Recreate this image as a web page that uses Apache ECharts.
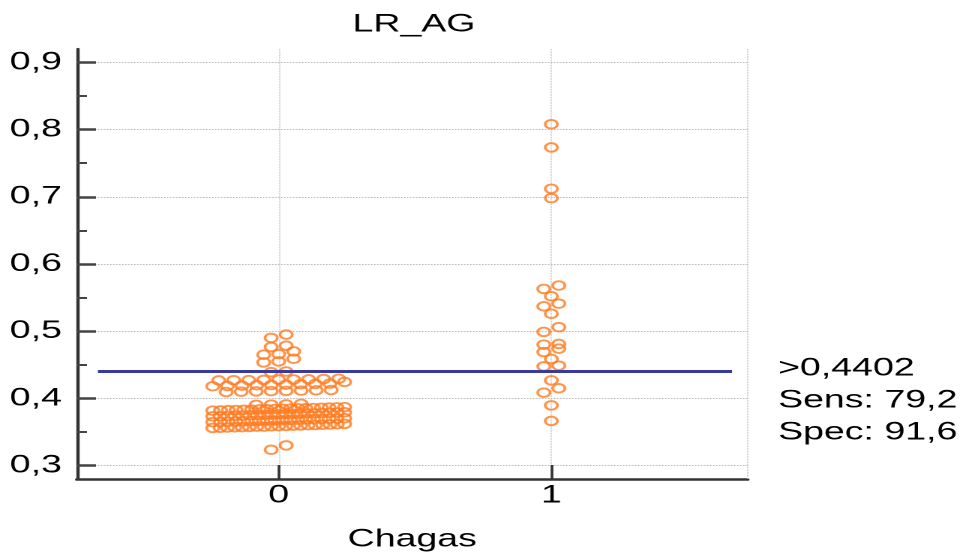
<!DOCTYPE html>
<html><head><meta charset="utf-8">
<script src="https://cdn.jsdelivr.net/npm/echarts@6/dist/echarts.min.js"></script>
<style>
html,body{margin:0;padding:0;background:#fff;overflow:hidden}
#chart{width:641px;height:557px;transform:scaleX(1.5);transform-origin:0 0;}
</style></head>
<body><div id="chart"></div>
<script>
// ---- data ----
const categories = ['0', '1'];
const chartTitle = 'LR_AG';
const xAxisName = 'Chagas';
const yTickValues = [0.3, 0.4, 0.5, 0.6, 0.7, 0.8, 0.9];
const yMinorTickValues = [0.35, 0.45, 0.55, 0.65, 0.75, 0.85];
const cutoff = 0.4402;

// Chagas = 0 (negatives)
const valuesChagas0 = [
  0.3235, 0.3300,
  0.3560, 0.3562, 0.3566, 0.3569, 0.3571, 0.3575, 0.3579, 0.3580, 0.3584, 0.3588,
  0.3590, 0.3595, 0.3597, 0.3601, 0.3604, 0.3607, 0.3611, 0.3615, 0.3620,
  0.3646, 0.3649, 0.3652, 0.3656, 0.3660, 0.3662, 0.3666, 0.3670, 0.3673, 0.3676,
  0.3680, 0.3684, 0.3687, 0.3690, 0.3694, 0.3698, 0.3701, 0.3705,
  0.3732, 0.3735, 0.3738, 0.3742, 0.3745, 0.3749, 0.3752, 0.3755, 0.3759, 0.3762,
  0.3765, 0.3769, 0.3772, 0.3776, 0.3779, 0.3782, 0.3786, 0.3790, 0.3793,
  0.3818, 0.3821, 0.3824, 0.3827, 0.3830, 0.3833, 0.3836, 0.3839, 0.3842, 0.3845,
  0.3848, 0.3851, 0.3854, 0.3857, 0.3860, 0.3863, 0.3866, 0.3870,
  0.3904, 0.3907, 0.3910, 0.3918,
  0.4095, 0.4100, 0.4104, 0.4108, 0.4112, 0.4115, 0.4120, 0.4124,
  0.4181, 0.4185, 0.4190, 0.4195, 0.4199, 0.4204, 0.4210, 0.4215, 0.4220, 0.4245,
  0.4267, 0.4270, 0.4272, 0.4275, 0.4278, 0.4281, 0.4284, 0.4288, 0.4292,
  0.4390, 0.4400,
  0.4536, 0.4550, 0.4590,
  0.4650, 0.4660, 0.4700,
  0.4765, 0.4784,
  0.4900, 0.4950
];

// Chagas = 1 (positives)
const valuesChagas1 = [
  0.3664, 0.3896, 0.4085, 0.4150, 0.4268, 0.4476, 0.4487, 0.4586,
  0.4690, 0.4740, 0.4800, 0.4810, 0.4990, 0.5060, 0.5260, 0.5370,
  0.5410, 0.5520, 0.5630, 0.5680, 0.6980, 0.7120, 0.7735, 0.8080
];

// ---- layout helpers ----
const xMin = -0.74, xMax = 1.72;
const yMin = 0.28, yMax = 0.92;
const FONT = '"Liberation Sans", Arial, sans-serif';
const ORANGE = '#ff7a1f';
const TEXT = '#000';

function swarm(values, center, binHeight, step, maxSpan) {
  const sorted = values.slice().sort((a, b) => a - b);
  const bins = [];
  let cur = null;
  for (const v of sorted) {
    if (!cur || v - cur.start >= binHeight - 1e-9) { cur = { start: v, items: [] }; bins.push(cur); }
    cur.items.push(v);
  }
  const pts = [];
  for (const b of bins) {
    const n = b.items.length;
    const s = n > 1 ? Math.min(step, maxSpan / (n - 1)) : 0;
    b.items.forEach((v, i) => pts.push([center + (i - (n - 1) / 2) * s, v]));
  }
  return pts;
}

const pts0 = swarm(valuesChagas0, 0, 0.0085, 0.055, 0.4835);
const pts1 = swarm(valuesChagas1, 1, 0.0085, 0.055, 0.4835);

const fmt = v => v.toFixed(1).replace('.', ',');
const sens = valuesChagas1.filter(v => v > cutoff).length / valuesChagas1.length * 100;
const spec = valuesChagas0.filter(v => v <= cutoff).length / valuesChagas0.length * 100;
const infoLines = [
  '>' + cutoff.toFixed(4).replace('.', ','),
  'Sens: ' + fmt(sens),
  'Spec: ' + fmt(spec)
];

const chart = echarts.init(document.getElementById('chart'), null, { devicePixelRatio: 2 });

const markerStyle = {
  symbol: 'circle',
  symbolSize: [8.2, 8.6],
  itemStyle: { color: 'rgba(255,255,255,0)', borderColor: ORANGE, borderWidth: 1.9 }
};

chart.setOption({
  animation: false,
  backgroundColor: '#fff',
  textStyle: { fontFamily: FONT },
  title: {
    text: chartTitle, left: 271, top: 7, textAlign: 'center',
    textStyle: { fontFamily: FONT, fontSize: 25, fontWeight: 'normal', color: TEXT }
  },
  grid: { left: 51.3, right: 142.6, top: 49, bottom: 77, containLabel: false },
  xAxis: {
    type: 'value', min: xMin, max: xMax,
    axisLine: { show: true, onZero: false, lineStyle: { color: '#333', width: 2.6 } },
    axisTick: { show: true, inside: true, length: 14, customValues: [0, 1], lineStyle: { color: '#333', width: 1.8 } },
    axisLabel: { customValues: [0, 1], formatter: v => categories[Math.round(v)], fontSize: 25, color: TEXT, margin: 4, fontFamily: FONT },
    splitLine: { show: true, lineStyle: { type: 'dotted', color: '#b8b8b8', width: 0.8 } },
    name: xAxisName, nameLocation: 'middle', nameGap: 48,
    nameTextStyle: { fontSize: 25, color: TEXT, fontFamily: FONT }
  },
  yAxis: [{
    type: 'value', min: yMin, max: yMax, position: 'left',
    axisLine: { show: true, onZero: false, lineStyle: { color: '#333', width: 2.2 } },
    axisTick: { show: true, inside: true, length: 12.7, customValues: yTickValues, lineStyle: { color: '#444', width: 2.5 } },
    axisLabel: { customValues: yTickValues, formatter: fmt, fontSize: 25, color: TEXT, margin: 10, fontFamily: FONT },
    splitLine: { show: true, lineStyle: { type: 'dotted', color: '#b8b8b8', width: 1 } }
  }, {
    type: 'value', min: yMin, max: yMax, position: 'left',
    axisLine: { show: false, onZero: false },
    axisTick: { show: true, inside: true, length: 6.7, customValues: yMinorTickValues, lineStyle: { color: '#444', width: 2 } },
    axisLabel: { show: false },
    splitLine: { show: false }
  }],
  series: [{
    type: 'scatter', name: categories[0], data: pts0, ...markerStyle, z: 3,
    markLine: {
      silent: true, symbol: 'none', label: { show: false }, z: 5,
      data: [
        [{ coord: [xMin + 0.077, cutoff], lineStyle: { color: '#3a3a9c', width: 3, type: 'solid' } },
         { coord: [xMax - 0.057, cutoff] }],
        { xAxis: xMax, lineStyle: { color: '#b8b8b8', width: 0.8, type: 'dotted' } }
      ]
    }
  }, {
    type: 'scatter', name: categories[1], data: pts1, ...markerStyle, z: 3
  }],
  graphic: [{
    type: 'text', left: 518.7, top: 352.5,
    style: { text: infoLines.join('\n'), font: '25px ' + FONT, lineHeight: 32, fill: TEXT }
  }]
});
</script>
</body></html>
